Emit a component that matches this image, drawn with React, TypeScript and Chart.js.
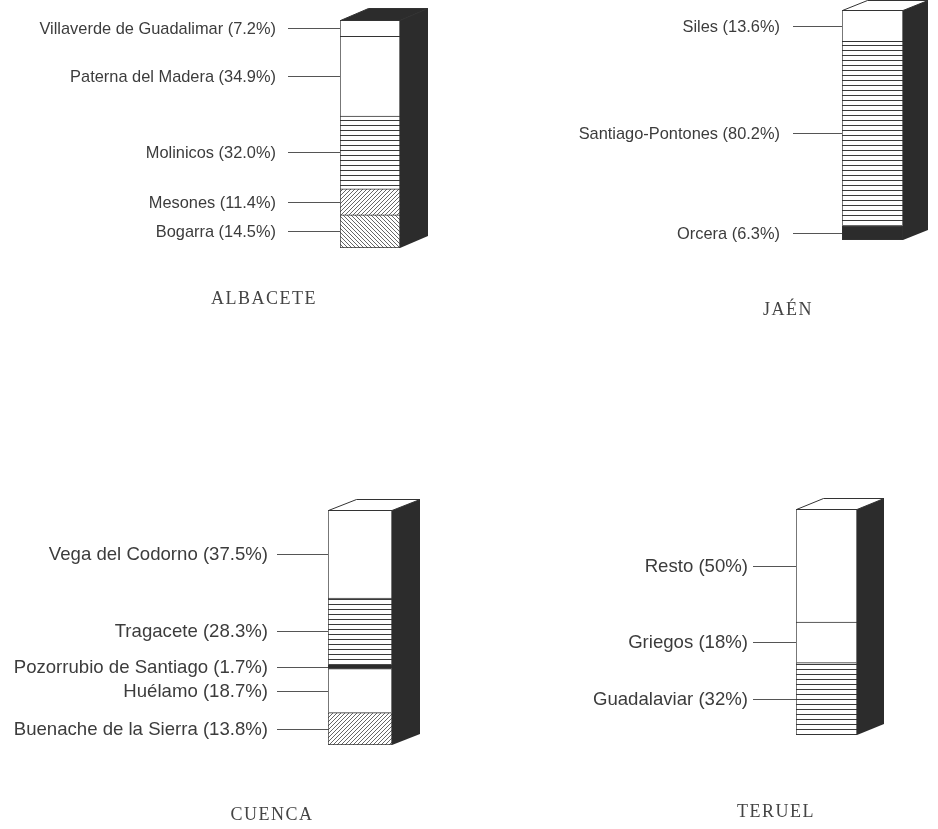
import React, { useEffect, useRef } from "react";
import { Chart, registerables } from "chart.js";
Chart.register(...registerables);

// ---------------- DATA ----------------
const albaceteNames = ["Bogarra", "Mesones", "Molinicos", "Paterna del Madera", "Villaverde de Guadalimar"];
const albaceteValues = [14.5, 11.4, 32.0, 34.9, 7.2];

const jaenNames = ["Orcera", "Santiago-Pontones", "Siles"];
const jaenValues = [6.3, 80.2, 13.6];

const cuencaNames = ["Buenache de la Sierra", "Huélamo", "Pozorrubio de Santiago", "Tragacete", "Vega del Codorno"];
const cuencaValues = [13.8, 18.7, 1.7, 28.3, 37.5];

const teruelNames = ["Guadalaviar", "Griegos", "Resto"];
const teruelValues = [32, 18, 50];

const provinceTitles = ["ALBACETE", "JAÉN", "CUENCA", "TERUEL"];

// ---------------- STYLES ----------------
const albaceteFills = ["diagDown", "diagUp", "hlines", "white", "white"];
const jaenFills = ["solid", "hlines", "white"];
const cuencaFills = ["diagUp", "white", "solid", "hlines", "white"];
const teruelFills = ["hlines", "white", "white"];

const DARK = "#2c2c2c";
const INK = "#3c3c3c";

type Cfg = {
  title: string;
  names: string[];
  values: number[];
  fills: string[];
  decimals: number;
  box: { x: number; y: number; w: number; h: number };
  front: { l: number; r: number; t: number; b: number };
  dx: number;
  dy: number;
  topFill: string;
  lineStart: number;
  textGap: number;
  font: number;
  titleX: number;
  titleY: number;
};

const panels: Cfg[] = [
  {
    title: provinceTitles[0], names: albaceteNames, values: albaceteValues, fills: albaceteFills, decimals: 1,
    box: { x: 0, y: 0, w: 469, h: 414 }, front: { l: 340, r: 400, t: 20, b: 248 }, dx: 28, dy: -12,
    topFill: DARK, lineStart: 288, textGap: 12, font: 16.4, titleX: 264, titleY: 304,
  },
  {
    title: provinceTitles[1], names: jaenNames, values: jaenValues, fills: jaenFills, decimals: 1,
    box: { x: 469, y: 0, w: 469, h: 414 }, front: { l: 842, r: 903, t: 10, b: 240 }, dx: 25, dy: -10,
    topFill: "#ffffff", lineStart: 793, textGap: 13, font: 16.4, titleX: 788, titleY: 315,
  },
  {
    title: provinceTitles[2], names: cuencaNames, values: cuencaValues, fills: cuencaFills, decimals: 1,
    box: { x: 0, y: 414, w: 469, h: 415 }, front: { l: 328, r: 392, t: 510, b: 745 }, dx: 28, dy: -11,
    topFill: "#ffffff", lineStart: 277, textGap: 9, font: 18.6, titleX: 272, titleY: 820,
  },
  {
    title: provinceTitles[3], names: teruelNames, values: teruelValues, fills: teruelFills, decimals: 0,
    box: { x: 469, y: 414, w: 469, h: 415 }, front: { l: 796, r: 857, t: 509, b: 735 }, dx: 27, dy: -11,
    topFill: "#ffffff", lineStart: 753, textGap: 5, font: 18.6, titleX: 776, titleY: 817,
  },
];

function makeFill(kind: string): CanvasPattern | string {
  if (kind === "white") return "#ffffff";
  if (kind === "solid") return DARK;
  const c = document.createElement("canvas");
  const ctx = c.getContext("2d")!;
  if (kind === "hlines") {
    c.width = 6;
    c.height = 5;
    ctx.fillStyle = "#fff";
    ctx.fillRect(0, 0, 6, 5);
    ctx.fillStyle = "#3a3a3a";
    ctx.fillRect(0, 0, 6, 1);
  } else {
    const s = 4;
    c.width = s;
    c.height = s;
    ctx.fillStyle = "#fff";
    ctx.fillRect(0, 0, s, s);
    ctx.strokeStyle = "#555";
    ctx.lineWidth = 0.9;
    ctx.beginPath();
    if (kind === "diagUp") {
      ctx.moveTo(0, s); ctx.lineTo(s, 0);
      ctx.moveTo(-1, 1); ctx.lineTo(1, -1);
      ctx.moveTo(s - 1, s + 1); ctx.lineTo(s + 1, s - 1);
    } else {
      ctx.moveTo(0, 0); ctx.lineTo(s, s);
      ctx.moveTo(s - 1, -1); ctx.lineTo(s + 1, 1);
      ctx.moveTo(-1, s - 1); ctx.lineTo(1, s + 1);
    }
    ctx.stroke();
  }
  return ctx.createPattern(c, "repeat")!;
}

function decoPlugin(cfg: Cfg) {
  return {
    id: "deco",
    afterDatasetsDraw(chart: any) {
      const ctx: CanvasRenderingContext2D = chart.ctx;
      const ca = chart.chartArea;
      const L = ca.left, R = ca.right;
      const T = chart.scales.y.getPixelForValue(chart.scales.y.max);
      const B = chart.scales.y.getPixelForValue(0);
      const { dx, dy } = cfg;
      ctx.save();
      // side face
      ctx.fillStyle = DARK;
      ctx.beginPath();
      ctx.moveTo(R, T);
      ctx.lineTo(R + dx, T + dy);
      ctx.lineTo(R + dx, B + dy);
      ctx.lineTo(R, B);
      ctx.closePath();
      ctx.fill();
      // top face
      ctx.fillStyle = cfg.topFill;
      ctx.strokeStyle = "#333";
      ctx.lineWidth = 1;
      ctx.beginPath();
      ctx.moveTo(L + 0.5, T + 0.5);
      ctx.lineTo(L + dx + 0.5, T + dy + 0.5);
      ctx.lineTo(R + dx, T + dy + 0.5);
      ctx.lineTo(R, T + 0.5);
      ctx.closePath();
      ctx.fill();
      ctx.stroke();

      // labels and leader lines
      const ls = cfg.lineStart - cfg.box.x;
      ctx.font = `${cfg.font}px "Liberation Sans", Arial, sans-serif`;
      ctx.textAlign = "right";
      ctx.textBaseline = "middle";
      cfg.values.forEach((v, i) => {
        const el: any = chart.getDatasetMeta(i).data[0];
        const midY = Math.round((el.y + el.base) / 2);
        ctx.strokeStyle = "#555";
        ctx.lineWidth = 1;
        ctx.beginPath();
        ctx.moveTo(ls, midY + 0.5);
        ctx.lineTo(L, midY + 0.5);
        ctx.stroke();
        ctx.fillStyle = INK;
        ctx.fillText(`${cfg.names[i]} (${v.toFixed(cfg.decimals)}%)`, ls - cfg.textGap, midY + 1);
      });

      // title
      ctx.font = `18px "Liberation Serif", "Times New Roman", serif`;
      (ctx as any).letterSpacing = "1.5px";
      ctx.textAlign = "center";
      ctx.textBaseline = "alphabetic";
      ctx.fillStyle = "#444";
      ctx.fillText(cfg.title, cfg.titleX - cfg.box.x, cfg.titleY - cfg.box.y);
      ctx.restore();
    },
  };
}

function Panel({ cfg }: { cfg: Cfg }) {
  const ref = useRef<HTMLCanvasElement>(null);
  useEffect(() => {
    const canvas = ref.current!;
    const { box, front } = cfg;
    const total = cfg.values.reduce((a, b) => a + b, 0);
    const datasets = cfg.values.map((v, i) => ({
      label: cfg.names[i],
      data: [v],
      backgroundColor: makeFill(cfg.fills[i]),
      borderColor: "#333",
      borderWidth: { top: 1, left: 1, right: 1, bottom: i === 0 ? 1 : 0 },
      borderSkipped: false,
      barPercentage: 1,
      categoryPercentage: 1,
      stack: "s",
    }));
    const chart = new Chart(canvas, {
      type: "bar",
      data: { labels: [cfg.title], datasets: datasets as any },
      options: {
        responsive: false,
        animation: false,
        devicePixelRatio: 1,
        layout: {
          padding: {
            left: front.l - box.x,
            right: box.x + box.w - front.r,
            top: front.t - box.y,
            bottom: box.y + box.h - front.b,
          },
        },
        scales: {
          x: { display: false, stacked: true },
          y: { display: false, stacked: true, min: 0, max: total },
        },
        plugins: {
          legend: { display: false },
          tooltip: { enabled: false },
          title: { display: false },
        },
      },
      plugins: [decoPlugin(cfg) as any],
    });
    return () => chart.destroy();
  }, [cfg]);
  return (
    <canvas
      ref={ref}
      width={cfg.box.w}
      height={cfg.box.h}
      style={{ position: "absolute", left: cfg.box.x, top: cfg.box.y, width: cfg.box.w, height: cfg.box.h }}
    />
  );
}

export default function App() {
  return (
    <div style={{ position: "absolute", left: 0, top: 0, width: 938, height: 829, background: "#fff", overflow: "hidden" }}>
      {panels.map((p) => (
        <Panel key={p.title} cfg={p} />
      ))}
    </div>
  );
}
